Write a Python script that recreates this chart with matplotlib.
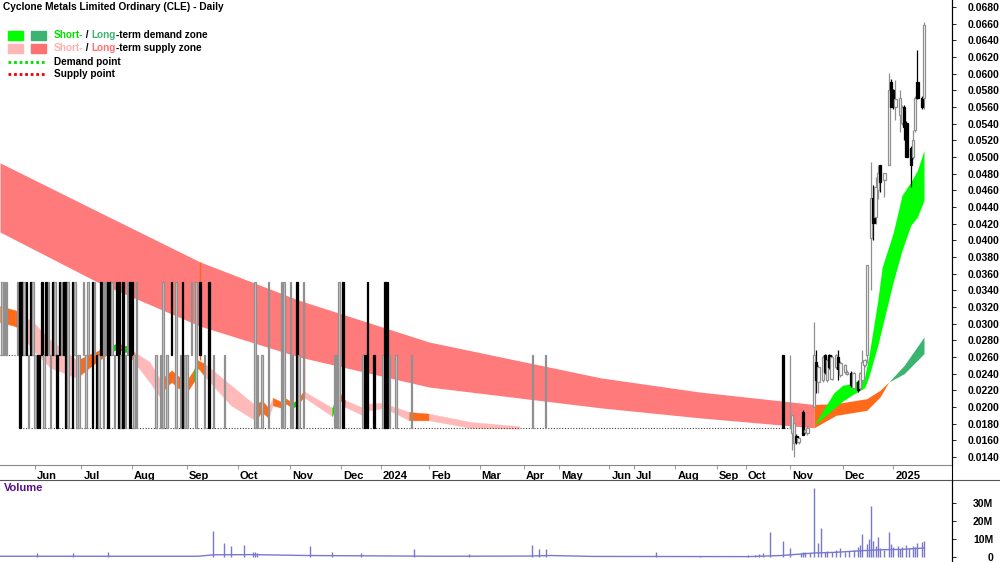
import matplotlib
matplotlib.use("Agg")
import matplotlib.pyplot as plt
import matplotlib.transforms as mtransforms
from matplotlib import font_manager
from matplotlib.lines import Line2D
from matplotlib.patches import Rectangle

names = {f.name for f in font_manager.fontManager.ttflist}
narrow = 'Liberation Sans Narrow' if 'Liberation Sans Narrow' in names else 'Liberation Sans'
plt.rcParams['font.family'] = [narrow, 'DejaVu Sans']

title = "Cyclone Metals Limited Ordinary (CLE) - Daily"

# x axis is trading-day index
month_pos = [16, 37, 60, 85, 108, 132, 155, 173, 195, 218, 238, 254, 277, 288, 307, 326, 339, 359, 383, 406]
month_labels = ['Jun', 'Jul', 'Aug', 'Sep', 'Oct', 'Nov', 'Dec', '2024', 'Feb', 'Mar',
                'Apr', 'May', 'Jun', 'Jul', 'Aug', 'Sep', 'Oct', 'Nov', 'Dec', '2025']

# illiquid period: bodies only (open, close)
thin_days = [1, 2, 3, 8, 9, 10, 11, 12, 13, 14, 15, 16, 17, 18, 19, 20, 21, 22, 23, 24, 25, 26, 27, 28,
             29, 30, 31, 33, 34, 35, 36, 38, 39, 40, 42, 43, 44, 45, 46, 47, 48, 49, 50, 51, 52, 53, 54,
             55, 56, 57, 58, 59, 60, 61, 62,
             71, 73, 74, 76, 78, 80, 82, 83, 84, 85, 87, 89, 91, 93, 95, 97, 102,
             116, 117, 119, 122, 128, 129, 132, 133, 135, 136, 138, 152, 153, 154, 156, 165, 166, 167,
             170, 174, 175, 176, 177, 180, 187, 242, 248, 356]
thin_open = [0.02625, 0.02625, 0.02625, 0.02625, 0.035, 0.035, 0.02625, 0.035, 0.0175, 0.035, 0.02625,
             0.0175, 0.02625, 0.02625, 0.035, 0.0175, 0.035, 0.02625, 0.0175, 0.035, 0.02625, 0.02625,
             0.035, 0.02625, 0.035, 0.035, 0.0175, 0.035, 0.02625, 0.0175, 0.0175, 0.02625, 0.0175,
             0.02625, 0.035, 0.02625, 0.02625, 0.0175, 0.035, 0.0175, 0.02625, 0.035, 0.035, 0.02625,
             0.0175, 0.035, 0.035, 0.0175, 0.035, 0.0175, 0.02625, 0.035, 0.035, 0.0175, 0.0175,
             0.0175, 0.0175, 0.0175, 0.0175, 0.035, 0.0175, 0.0175, 0.035, 0.0175, 0.0175, 0.02625,
             0.0175, 0.035, 0.0175, 0.035, 0.0175, 0.0175,
             0.0175, 0.0175, 0.0175, 0.0175, 0.0175, 0.0175, 0.0175, 0.0175, 0.035, 0.0175, 0.0175,
             0.0175, 0.0175, 0.0175, 0.035, 0.0175, 0.02625, 0.035, 0.02625, 0.0175, 0.035, 0.035,
             0.0175, 0.0175, 0.0175, 0.0175, 0.0175, 0.02625]
thin_close = [0.035, 0.035, 0.035, 0.035, 0.0175, 0.02625, 0.035, 0.02625, 0.02625, 0.02625, 0.035,
              0.02625, 0.0175, 0.0175, 0.02625, 0.02625, 0.02625, 0.035, 0.02625, 0.02625, 0.035,
              0.0175, 0.02625, 0.035, 0.02625, 0.0175, 0.035, 0.0175, 0.035, 0.02625, 0.02625, 0.035,
              0.02625, 0.035, 0.0175, 0.035, 0.0175, 0.02625, 0.02625, 0.035, 0.035, 0.0175, 0.02625,
              0.035, 0.02625, 0.02625, 0.0175, 0.02625, 0.0175, 0.02625, 0.035, 0.0175, 0.02625,
              0.02625, 0.035,
              0.02625, 0.02625, 0.035, 0.02625, 0.02625, 0.035, 0.02625, 0.0175, 0.02625, 0.02625,
              0.035, 0.035, 0.02625, 0.02625, 0.0175, 0.02625, 0.02625,
              0.035, 0.02625, 0.02625, 0.035, 0.035, 0.035, 0.035, 0.02625, 0.0175, 0.02625, 0.035,
              0.02625, 0.02625, 0.035, 0.0175, 0.02625, 0.0175, 0.0175, 0.0175, 0.02625, 0.0175,
              0.0175, 0.02625, 0.02625, 0.02625, 0.02625, 0.02625, 0.0175]

# active trading from Nov 2024
act_days = [359, 360, 361, 362, 363, 365, 366, 367, 370, 371, 372, 374, 375, 376, 377, 378, 380, 381,
            382, 384, 385, 387, 388, 390, 391, 392, 393, 394, 396, 397, 398, 399, 400, 402, 404, 405,
            406, 407, 409, 410, 411, 412, 414, 415, 416, 417, 419, 420]
act_open = [0.0175, 0.0169, 0.0157, 0.0165, 0.0158, 0.0194, 0.0170, 0.0169, 0.0200, 0.0254, 0.0230,
            0.0232, 0.0262, 0.0232, 0.0262, 0.0234, 0.0248, 0.0260, 0.0238, 0.0242, 0.0240, 0.0241,
            0.0223, 0.0230, 0.0223, 0.0232, 0.0250, 0.0262, 0.0403, 0.0451, 0.0428, 0.0460, 0.0490,
            0.0472, 0.0490, 0.0590, 0.0580, 0.0560, 0.0550, 0.0541, 0.0560, 0.0541, 0.0511, 0.0500,
            0.0532, 0.0590, 0.0571, 0.0571]
act_high = [0.0262, 0.0190, 0.0181, 0.0167, 0.0164, 0.0196, 0.0173, 0.0178, 0.0302, 0.0268, 0.0250,
            0.0262, 0.0264, 0.0258, 0.0264, 0.0262, 0.0264, 0.0268, 0.0255, 0.0252, 0.0244, 0.0243,
            0.0242, 0.0232, 0.0242, 0.0268, 0.0258, 0.0370, 0.0494, 0.0466, 0.0476, 0.0490, 0.0490,
            0.0481, 0.0601, 0.0593, 0.0582, 0.0592, 0.0580, 0.0562, 0.0562, 0.0543, 0.0513, 0.0532,
            0.0573, 0.0628, 0.0573, 0.0662]
act_low = [0.0175, 0.0148, 0.0140, 0.0156, 0.0155, 0.0166, 0.0168, 0.0166, 0.0200, 0.0217, 0.0217,
           0.0230, 0.0240, 0.0230, 0.0246, 0.0232, 0.0246, 0.0232, 0.0236, 0.0240, 0.0238, 0.0224,
           0.0221, 0.0218, 0.0220, 0.0230, 0.0248, 0.0253, 0.0340, 0.0400, 0.0420, 0.0450, 0.0458,
           0.0452, 0.0490, 0.0560, 0.0558, 0.0544, 0.0530, 0.0538, 0.0520, 0.0500, 0.0464, 0.0498,
           0.0530, 0.0569, 0.0558, 0.0558]
act_close = [0.0175, 0.0190, 0.0181, 0.0158, 0.0163, 0.0166, 0.0172, 0.0175, 0.0262, 0.0232, 0.0248,
             0.0260, 0.0242, 0.0256, 0.0248, 0.0260, 0.0262, 0.0246, 0.0253, 0.0250, 0.0242, 0.0226,
             0.0241, 0.0220, 0.0241, 0.0254, 0.0256, 0.0370, 0.0451, 0.0421, 0.0464, 0.0481, 0.0470,
             0.0481, 0.0580, 0.0560, 0.0560, 0.0570, 0.0571, 0.0560, 0.0536, 0.0500, 0.0490, 0.0520,
             0.0571, 0.0571, 0.0560, 0.0658]

# no-trade days (dotted close line)
flat_start = [0, 9]
flat_end = [9, 358]
flat_level = [0.02625, 0.0175]

# long-term zone: supply, transition, demand
lts_x = [0, 45, 91, 136, 195, 273, 318, 370]
lts_hi = [0.0493, 0.0434, 0.0374, 0.0328, 0.0278, 0.0235, 0.0218, 0.0203]
lts_lo = [0.0410, 0.0349, 0.0297, 0.0260, 0.0224, 0.0199, 0.0187, 0.0175]
ltt_x = [370, 380, 394, 400, 404]
ltt_hi = [0.0203, 0.0204, 0.0210, 0.0220, 0.0230]
ltt_lo = [0.0175, 0.0190, 0.0196, 0.0212, 0.0230]
ltd_x = [404, 411, 420]
ltd_hi = [0.0230, 0.0250, 0.0284]
ltd_lo = [0.0230, 0.0240, 0.0264]

# short-term demand zone
std_x = [370, 379, 383, 387, 393, 395, 399, 401, 406, 410, 414, 417, 420]
std_hi = [0.0178, 0.0217, 0.0226, 0.0228, 0.0236, 0.0262, 0.0328, 0.0368, 0.0409, 0.0454, 0.0470, 0.0484, 0.0508]
std_lo = [0.0178, 0.0198, 0.0207, 0.0214, 0.0223, 0.0237, 0.0274, 0.0296, 0.0350, 0.0388, 0.0418, 0.0428, 0.0448]

# short-term band in the illiquid period (p = supply, o = transition, g = demand)
st_x = [0, 7, 8, 15, 23, 30, 35, 39, 45, 50, 54, 56, 58, 61, 68, 73, 75, 78, 81, 85, 88, 90, 93, 105,
        116, 119, 122, 124, 128, 130, 133, 135, 138, 151, 154, 157, 165, 167, 175, 177, 186, 195, 214, 236]
st_hi = [0.0321, 0.0316, 0.0314, 0.0302, 0.0280, 0.0266, 0.0256, 0.0261, 0.0268, 0.0273, 0.0277,
         0.0273, 0.0274, 0.0266, 0.0254, 0.0232, 0.0237, 0.0244, 0.0237, 0.0232, 0.0244, 0.0256,
         0.0252, 0.0226, 0.0202, 0.0208, 0.0199, 0.0211, 0.0206, 0.0210, 0.0205, 0.0208, 0.0219,
         0.0199, 0.0218, 0.0208, 0.0199, 0.0204, 0.0205, 0.0202, 0.0194, 0.0192, 0.0182, 0.0177]
st_lo = [0.0302, 0.0297, 0.0295, 0.0268, 0.0247, 0.0240, 0.0235, 0.0244, 0.0256, 0.0266, 0.0270,
         0.0266, 0.0266, 0.0254, 0.0230, 0.0211, 0.0223, 0.0230, 0.0223, 0.0218, 0.0230, 0.0247,
         0.0237, 0.0202, 0.0184, 0.0194, 0.0187, 0.0202, 0.0199, 0.0204, 0.0199, 0.0202, 0.0212,
         0.0189, 0.0211, 0.0200, 0.0190, 0.0196, 0.0199, 0.0196, 0.0184, 0.0184, 0.0175, 0.0174]
st_kind = ['o', 'o', 'p', 'p', 'p', 'p', 'o', 'o', 'o', 'g', 'o', 'g', 'o', 'p', 'p', 'o', 'o', 'o', 'o',
           'o', 'g', 'o', 'p', 'p', 'o', 'o', 'p', 'o', 'g', 'o', 'g', 'o', 'p', 'g', 'o', 'p', 'o', 'p',
           'g', 'p', 'o', 'p', 'p', 'p']
spike_x = [91, 138, 154]
spike_hi = [0.0374, 0.0328, 0.0308]
spike_lo = [0.0256, 0.0217, 0.0217]

# volume (millions)
vol_days = [17, 33, 49, 97, 102, 105, 111, 115, 116, 117, 141, 151, 164, 188, 213, 242, 245, 248, 298,
            318, 340, 343, 345, 347, 350, 356, 359, 364, 365, 366, 368, 370, 372, 373, 375, 376, 378,
            380, 382, 384, 386, 388, 390, 391, 392, 394, 395, 396, 397, 398, 399, 400, 402, 404, 405,
            406, 408, 409, 410, 412, 413, 415, 416, 417, 419, 420]
vol_m = [2.2, 2.2, 2.7, 14.4, 7.8, 6.1, 6.7, 2.5, 2.7, 2.0, 6.1, 2.7, 2.2, 4.4, 1.5, 6.7, 4.4, 4.4, 2.6,
         0.8, 1.0, 1.2, 1.5, 2.0, 13.9, 8.9, 5.0, 2.0, 2.5, 3.0, 2.2, 38.3, 7.8, 16.1, 3.0, 3.5, 2.5,
         4.0, 5.0, 2.5, 3.5, 4.0, 5.5, 6.5, 12.8, 7.0, 10.0, 28.3, 8.9, 6.0, 11.1, 5.0, 4.0, 13.9, 7.0,
         5.5, 6.0, 4.5, 5.5, 6.5, 5.0, 6.0, 5.5, 8.0, 8.2, 8.8]
volma_x = [0, 90, 97, 115, 140, 200, 240, 250, 270, 340, 355, 370, 380, 392, 400, 410, 420]
volma_m = [0.4, 0.4, 1.2, 1.3, 0.8, 0.4, 0.5, 0.8, 0.3, 0.2, 0.8, 2.2, 2.6, 3.5, 4.0, 4.2, 5.0]

W, H = 1000, 562
fig = plt.figure(figsize=(10, 5.62), dpi=100)
ax = fig.add_axes([0, 1 - 465 / H, 952 / W, 465 / H])
axv = fig.add_axes([0, 0, 952 / W, 82 / H])

xmax = 952 / 2.2
for a in (ax, axv):
    a.set_xlim(0, xmax)
    for s in ('top', 'left'):
        a.spines[s].set_visible(False)
    a.spines['right'].set_linewidth(0.8)
ax.spines['bottom'].set_color('#888888')
axv.spines['bottom'].set_visible(False)

# zones
ax.fill_between(lts_x, lts_lo, lts_hi, color='#FF7A7A', lw=0, zorder=1)
ax.fill_between(ltt_x, ltt_lo, ltt_hi, color='#FF6A1A', lw=0, zorder=1)
ax.fill_between(ltd_x, ltd_lo, ltd_hi, color='#3CB371', lw=0, zorder=1)
ax.fill_between(std_x, std_lo, std_hi, color='#00FF00', lw=0, zorder=2)
kind_col = {'p': '#FFB9B9', 'o': '#FF6A1A', 'g': '#00E000'}
for i in range(len(st_x) - 1):
    c = kind_col[st_kind[i]]
    ax.fill_between(st_x[i:i + 2], st_lo[i:i + 2], st_hi[i:i + 2], color=c, lw=0.3, edgecolor=c, zorder=2)
ax.vlines(spike_x, spike_lo, spike_hi, color='#FF6A1A', lw=1, zorder=2)

for s, e, lv in zip(flat_start, flat_end, flat_level):
    ax.plot([s, e], [lv, lv], color='#444444', lw=0.8, ls=(0, (1, 1.5)), zorder=3)


def draw_candle(d, o, hi, lo, c, w, fill_up):
    up = c >= o
    ec = '#909090' if up else 'black'
    if hi > max(o, c) or lo < min(o, c):
        ax.vlines(d, lo, hi, color=ec, lw=0.9, zorder=4)
    if abs(c - o) < 1e-6:
        ax.hlines(c, d - w / 2, d + w / 2, color=ec, lw=1, zorder=5)
    else:
        ax.add_patch(Rectangle((d - w / 2, min(o, c)), w, abs(c - o), facecolor=fill_up if up else 'black',
                               edgecolor=ec, lw=0.9, zorder=5))


for d, o, c in zip(thin_days, thin_open, thin_close):
    draw_candle(d, o, max(o, c), min(o, c), c, 0.8, '#C8C8C8')
for d, o, hi, lo, c in zip(act_days, act_open, act_high, act_low, act_close):
    draw_candle(d, o, hi, lo, c, 1.1, 'white')

ax.set_ylim(0.01304, 0.06884)
yt = [0.014 + 0.002 * i for i in range(28)]
ax.set_yticks(yt)
ax.set_yticklabels(['%.4f' % v for v in yt])
ax.yaxis.tick_right()
ax.tick_params(axis='y', direction='out', length=3, width=0.6, pad=8, labelsize=7.5)
for t in ax.get_yticklabels():
    t.set_fontweight('bold')

ax.set_xticks(month_pos)
ax.set_xticklabels(month_labels)
ax.tick_params(axis='x', direction='out', length=3, width=0.6, color='#888888', pad=1.5, labelsize=8)
off = mtransforms.ScaledTranslation(2 / 100, 0, fig.dpi_scale_trans)
for t in ax.get_xticklabels():
    t.set_fontweight('bold')
    t.set_horizontalalignment('left')
    t.set_transform(t.get_transform() + off)

# volume
axv.vlines(vol_days, 0, vol_m, color='#7878CC', lw=1)
axv.plot(volma_x, volma_m, color='#7878CC', lw=1)
axv.set_ylim(-2.8, 42.8)
axv.set_xticks([])
axv.set_yticks([0, 10, 20, 30])
axv.set_yticklabels(['0', '10M', '20M', '30M'])
axv.yaxis.tick_right()
axv.tick_params(axis='y', direction='out', length=3, width=0.6, pad=8, labelsize=7.5)
off2 = mtransforms.ScaledTranslation(26 / 100, 0, fig.dpi_scale_trans)
for t in axv.get_yticklabels():
    t.set_fontweight('bold')
    t.set_horizontalalignment('right')
    t.set_transform(t.get_transform() + off2)
axv.text(0.004, 0.9, 'Volume', transform=axv.transAxes, color='#5A0F8C', fontsize=8,
         fontweight='bold', va='center')

# frame lines around the date strip
fig.add_artist(Line2D([0, 1], [1 - 480 / H, 1 - 480 / H], transform=fig.transFigure, color='#555555', lw=0.8))
fig.add_artist(Line2D([952 / W, 952 / W], [0, 1], transform=fig.transFigure, color='black', lw=0.8))

# title and legend
fig.text(3 / W, 1 - 7 / H, title, fontsize=7.3, fontweight='bold', va='center')
fig.patches.append(Rectangle((8 / W, 1 - 40 / H), 15 / W, 9 / H, transform=fig.transFigure, color='#00FF00'))
fig.patches.append(Rectangle((31 / W, 1 - 40 / H), 15 / W, 9 / H, transform=fig.transFigure, color='#3CB371'))
fig.patches.append(Rectangle((8 / W, 1 - 53 / H), 15 / W, 9 / H, transform=fig.transFigure, color='#FFB6B6'))
fig.patches.append(Rectangle((31 / W, 1 - 53 / H), 15 / W, 9 / H, transform=fig.transFigure, color='#FF7070'))
fig.add_artist(Line2D([8 / W, 45 / W], [1 - 62 / H] * 2, transform=fig.transFigure, color='#00DD00', lw=2,
                      ls=(0, (1, 1))))
fig.add_artist(Line2D([8 / W, 45 / W], [1 - 74 / H] * 2, transform=fig.transFigure, color='#EE0000', lw=2,
                      ls=(0, (1, 1))))

renderer = fig.canvas.get_renderer()


def color_text(x_px, y_px, parts):
    x = x_px / W
    for s, c in parts:
        t = fig.text(x, 1 - y_px / H, s, color=c, fontsize=7.2, fontweight='bold', va='center')
        bb = t.get_window_extent(renderer=renderer)
        x = bb.x1 / W


color_text(54, 35, [('Short-', '#00E000'), (' / ', 'black'), ('Long', '#3CB371'),
                    ('-term demand zone', 'black')])
color_text(54, 48, [('Short-', '#FFB0B0'), (' / ', 'black'), ('Long', '#FF7070'),
                    ('-term supply zone', 'black')])
color_text(54, 62, [('Demand point', 'black')])
color_text(54, 74, [('Supply point', 'black')])

fig.savefig('out.png', dpi=100)
